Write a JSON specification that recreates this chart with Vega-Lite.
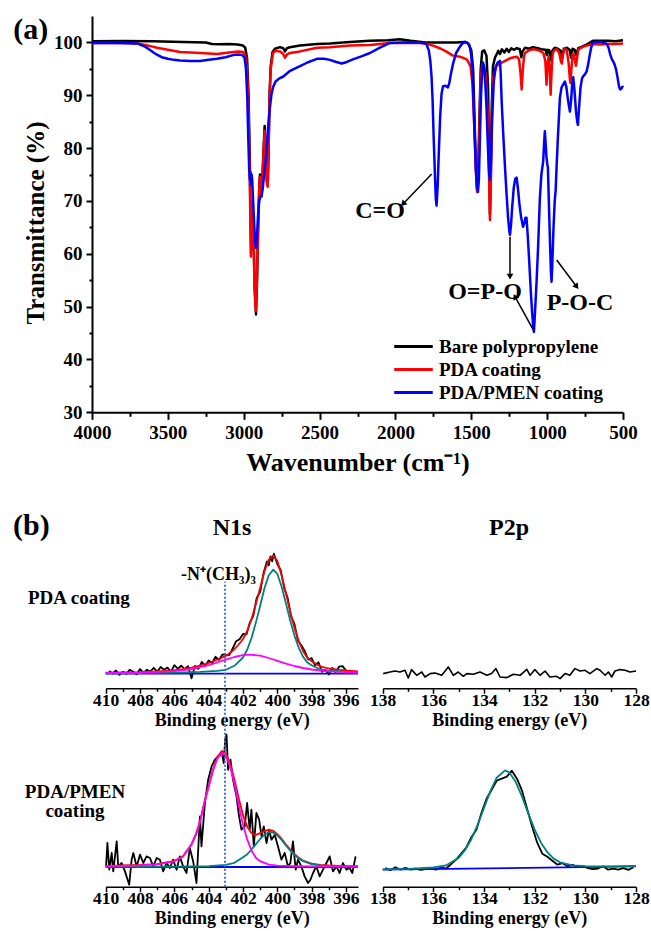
{
"$schema": "https://vega.github.io/schema/vega-lite/v6.json",
"width": 651, "height": 931,
"autosize": {"type": "none"},
"padding": 0,
"background": "white",
"config": {
 "view": {"stroke": null},
 "axis": {"labelFont": "Liberation Serif", "labelFontWeight": "bold", "labelColor": "#000", "titleFont": "Liberation Serif", "titleFontWeight": "bold", "titleColor": "#000", "domainColor": "#000", "tickColor": "#000", "grid": false, "labelOverlap": false, "labelFlush": false}
},
"datasets": {
"ftir": [
{"s":"Bare polypropylene","w":4000,"T":100.2},{"s":"Bare polypropylene","w":3800,"T":100.25},{"s":"Bare polypropylene","w":3600,"T":100.2},{"s":"Bare polypropylene","w":3400,"T":100.1},{"s":"Bare polypropylene","w":3250,"T":100.0},{"s":"Bare polypropylene","w":3210,"T":99.7},{"s":"Bare polypropylene","w":3150,"T":99.65},{"s":"Bare polypropylene","w":3100,"T":99.7},{"s":"Bare polypropylene","w":3040,"T":99.6},{"s":"Bare polypropylene","w":3005,"T":99.4},{"s":"Bare polypropylene","w":2990,"T":99.0},{"s":"Bare polypropylene","w":2978,"T":97},{"s":"Bare polypropylene","w":2968,"T":90},{"s":"Bare polypropylene","w":2960,"T":78},{"s":"Bare polypropylene","w":2955,"T":66},{"s":"Bare polypropylene","w":2951,"T":60.8},{"s":"Bare polypropylene","w":2947,"T":64},{"s":"Bare polypropylene","w":2942,"T":69.5},{"s":"Bare polypropylene","w":2936,"T":64},{"s":"Bare polypropylene","w":2928,"T":54},{"s":"Bare polypropylene","w":2919,"T":48.5},{"s":"Bare polypropylene","w":2912,"T":55},{"s":"Bare polypropylene","w":2905,"T":65},{"s":"Bare polypropylene","w":2897,"T":73},{"s":"Bare polypropylene","w":2893,"T":75},{"s":"Bare polypropylene","w":2886,"T":71.5},{"s":"Bare polypropylene","w":2880,"T":72},{"s":"Bare polypropylene","w":2872,"T":78},{"s":"Bare polypropylene","w":2862,"T":84.2},{"s":"Bare polypropylene","w":2855,"T":80},{"s":"Bare polypropylene","w":2848,"T":74},{"s":"Bare polypropylene","w":2842,"T":73},{"s":"Bare polypropylene","w":2836,"T":80},{"s":"Bare polypropylene","w":2830,"T":90},{"s":"Bare polypropylene","w":2822,"T":95.5},{"s":"Bare polypropylene","w":2810,"T":98.2},{"s":"Bare polypropylene","w":2794,"T":98.8},{"s":"Bare polypropylene","w":2761,"T":99.1},{"s":"Bare polypropylene","w":2740,"T":98.9},{"s":"Bare polypropylene","w":2728,"T":98.3},{"s":"Bare polypropylene","w":2715,"T":98.9},{"s":"Bare polypropylene","w":2695,"T":99.1},{"s":"Bare polypropylene","w":2629,"T":99.4},{"s":"Bare polypropylene","w":2517,"T":99.7},{"s":"Bare polypropylene","w":2432,"T":99.8},{"s":"Bare polypropylene","w":2300,"T":100.1},{"s":"Bare polypropylene","w":2170,"T":100.3},{"s":"Bare polypropylene","w":2050,"T":100.4},{"s":"Bare polypropylene","w":1970,"T":100.6},{"s":"Bare polypropylene","w":1900,"T":100.3},{"s":"Bare polypropylene","w":1800,"T":100.0},{"s":"Bare polypropylene","w":1700,"T":100.0},{"s":"Bare polypropylene","w":1600,"T":100.0},{"s":"Bare polypropylene","w":1542,"T":100.1},{"s":"Bare polypropylene","w":1520,"T":99.8},{"s":"Bare polypropylene","w":1500,"T":98.5},{"s":"Bare polypropylene","w":1488,"T":95},{"s":"Bare polypropylene","w":1478,"T":85},{"s":"Bare polypropylene","w":1468,"T":75},{"s":"Bare polypropylene","w":1462,"T":72},{"s":"Bare polypropylene","w":1455,"T":75},{"s":"Bare polypropylene","w":1447,"T":85},{"s":"Bare polypropylene","w":1438,"T":95},{"s":"Bare polypropylene","w":1428,"T":98.3},{"s":"Bare polypropylene","w":1415,"T":98.5},{"s":"Bare polypropylene","w":1400,"T":97.5},{"s":"Bare polypropylene","w":1390,"T":92},{"s":"Bare polypropylene","w":1382,"T":78},{"s":"Bare polypropylene","w":1377,"T":67.5},{"s":"Bare polypropylene","w":1372,"T":74},{"s":"Bare polypropylene","w":1365,"T":88},{"s":"Bare polypropylene","w":1357,"T":95.5},{"s":"Bare polypropylene","w":1344,"T":97.1},{"s":"Bare polypropylene","w":1332,"T":97.8},{"s":"Bare polypropylene","w":1322,"T":98.4},{"s":"Bare polypropylene","w":1311,"T":97.8},{"s":"Bare polypropylene","w":1298,"T":98.7},{"s":"Bare polypropylene","w":1282,"T":98.1},{"s":"Bare polypropylene","w":1266,"T":98.8},{"s":"Bare polypropylene","w":1252,"T":98.2},{"s":"Bare polypropylene","w":1236,"T":98.9},{"s":"Bare polypropylene","w":1220,"T":98.6},{"s":"Bare polypropylene","w":1200,"T":98.9},{"s":"Bare polypropylene","w":1180,"T":98.7},{"s":"Bare polypropylene","w":1170,"T":97.2},{"s":"Bare polypropylene","w":1162,"T":98.3},{"s":"Bare polypropylene","w":1145,"T":99.0},{"s":"Bare polypropylene","w":1120,"T":98.8},{"s":"Bare polypropylene","w":1094,"T":99.1},{"s":"Bare polypropylene","w":1060,"T":98.9},{"s":"Bare polypropylene","w":1040,"T":98.7},{"s":"Bare polypropylene","w":1010,"T":98.6},{"s":"Bare polypropylene","w":1002,"T":97.6},{"s":"Bare polypropylene","w":995,"T":98.6},{"s":"Bare polypropylene","w":985,"T":98.5},{"s":"Bare polypropylene","w":975,"T":96.6},{"s":"Bare polypropylene","w":966,"T":98.4},{"s":"Bare polypropylene","w":950,"T":99.0},{"s":"Bare polypropylene","w":930,"T":98.8},{"s":"Bare polypropylene","w":910,"T":98.4},{"s":"Bare polypropylene","w":900,"T":97.0},{"s":"Bare polypropylene","w":890,"T":98.8},{"s":"Bare polypropylene","w":870,"T":99.0},{"s":"Bare polypropylene","w":852,"T":98.6},{"s":"Bare polypropylene","w":842,"T":97.1},{"s":"Bare polypropylene","w":832,"T":98.8},{"s":"Bare polypropylene","w":818,"T":98.6},{"s":"Bare polypropylene","w":808,"T":97.6},{"s":"Bare polypropylene","w":795,"T":98.9},{"s":"Bare polypropylene","w":770,"T":99.2},{"s":"Bare polypropylene","w":740,"T":99.6},{"s":"Bare polypropylene","w":710,"T":100.1},{"s":"Bare polypropylene","w":698,"T":100.3},{"s":"Bare polypropylene","w":650,"T":100.3},{"s":"Bare polypropylene","w":600,"T":100.3},{"s":"Bare polypropylene","w":550,"T":100.2},{"s":"Bare polypropylene","w":500,"T":100.4},
{"s":"PDA coating","w":4000,"T":99.9},{"s":"PDA coating","w":3800,"T":99.9},{"s":"PDA coating","w":3700,"T":99.8},{"s":"PDA coating","w":3650,"T":99.5},{"s":"PDA coating","w":3600,"T":99.2},{"s":"PDA coating","w":3572,"T":99.0},{"s":"PDA coating","w":3500,"T":98.6},{"s":"PDA coating","w":3420,"T":98.2},{"s":"PDA coating","w":3350,"T":98.1},{"s":"PDA coating","w":3288,"T":98.0},{"s":"PDA coating","w":3230,"T":97.9},{"s":"PDA coating","w":3176,"T":97.8},{"s":"PDA coating","w":3120,"T":98.0},{"s":"PDA coating","w":3070,"T":98.2},{"s":"PDA coating","w":3030,"T":98.3},{"s":"PDA coating","w":3005,"T":98.2},{"s":"PDA coating","w":2990,"T":97.6},{"s":"PDA coating","w":2978,"T":95},{"s":"PDA coating","w":2968,"T":87},{"s":"PDA coating","w":2960,"T":74},{"s":"PDA coating","w":2953,"T":59.5},{"s":"PDA coating","w":2948,"T":63},{"s":"PDA coating","w":2943,"T":70},{"s":"PDA coating","w":2936,"T":64},{"s":"PDA coating","w":2928,"T":53},{"s":"PDA coating","w":2920,"T":49.2},{"s":"PDA coating","w":2913,"T":55},{"s":"PDA coating","w":2905,"T":65},{"s":"PDA coating","w":2897,"T":73},{"s":"PDA coating","w":2893,"T":74.6},{"s":"PDA coating","w":2886,"T":71},{"s":"PDA coating","w":2882,"T":70.8},{"s":"PDA coating","w":2874,"T":76},{"s":"PDA coating","w":2862,"T":83.3},{"s":"PDA coating","w":2855,"T":79},{"s":"PDA coating","w":2848,"T":73.5},{"s":"PDA coating","w":2842,"T":72.7},{"s":"PDA coating","w":2836,"T":79},{"s":"PDA coating","w":2830,"T":89},{"s":"PDA coating","w":2822,"T":95},{"s":"PDA coating","w":2807,"T":98.0},{"s":"PDA coating","w":2790,"T":98.4},{"s":"PDA coating","w":2760,"T":98.3},{"s":"PDA coating","w":2740,"T":97.8},{"s":"PDA coating","w":2728,"T":97.1},{"s":"PDA coating","w":2712,"T":97.8},{"s":"PDA coating","w":2695,"T":98.0},{"s":"PDA coating","w":2629,"T":98.3},{"s":"PDA coating","w":2517,"T":99.0},{"s":"PDA coating","w":2432,"T":99.1},{"s":"PDA coating","w":2300,"T":99.4},{"s":"PDA coating","w":2168,"T":99.5},{"s":"PDA coating","w":2036,"T":99.9},{"s":"PDA coating","w":1900,"T":99.9},{"s":"PDA coating","w":1838,"T":99.9},{"s":"PDA coating","w":1790,"T":99.7},{"s":"PDA coating","w":1752,"T":99.4},{"s":"PDA coating","w":1700,"T":98.8},{"s":"PDA coating","w":1661,"T":98.2},{"s":"PDA coating","w":1621,"T":97.5},{"s":"PDA coating","w":1575,"T":97.3},{"s":"PDA coating","w":1530,"T":96.8},{"s":"PDA coating","w":1505,"T":95.5},{"s":"PDA coating","w":1492,"T":92},{"s":"PDA coating","w":1480,"T":84},{"s":"PDA coating","w":1470,"T":76},{"s":"PDA coating","w":1461,"T":71.7},{"s":"PDA coating","w":1454,"T":74},{"s":"PDA coating","w":1446,"T":84},{"s":"PDA coating","w":1438,"T":93},{"s":"PDA coating","w":1428,"T":95.8},{"s":"PDA coating","w":1415,"T":95.5},{"s":"PDA coating","w":1402,"T":93},{"s":"PDA coating","w":1392,"T":86},{"s":"PDA coating","w":1384,"T":76},{"s":"PDA coating","w":1377,"T":66.4},{"s":"PDA coating","w":1371,"T":73},{"s":"PDA coating","w":1364,"T":86},{"s":"PDA coating","w":1355,"T":93.5},{"s":"PDA coating","w":1333,"T":95.6},{"s":"PDA coating","w":1310,"T":96},{"s":"PDA coating","w":1290,"T":96.3},{"s":"PDA coating","w":1265,"T":96.7},{"s":"PDA coating","w":1245,"T":97.0},{"s":"PDA coating","w":1220,"T":97.2},{"s":"PDA coating","w":1200,"T":97.3},{"s":"PDA coating","w":1185,"T":96.8},{"s":"PDA coating","w":1175,"T":94},{"s":"PDA coating","w":1168,"T":91.1},{"s":"PDA coating","w":1161,"T":94.5},{"s":"PDA coating","w":1153,"T":97.2},{"s":"PDA coating","w":1146,"T":98.0},{"s":"PDA coating","w":1120,"T":98.5},{"s":"PDA coating","w":1094,"T":98.7},{"s":"PDA coating","w":1070,"T":98.6},{"s":"PDA coating","w":1048,"T":98.4},{"s":"PDA coating","w":1025,"T":98},{"s":"PDA coating","w":1012,"T":96.5},{"s":"PDA coating","w":1004,"T":92},{"s":"PDA coating","w":998,"T":95.5},{"s":"PDA coating","w":990,"T":97.4},{"s":"PDA coating","w":983,"T":95},{"s":"PDA coating","w":977,"T":90.1},{"s":"PDA coating","w":970,"T":95},{"s":"PDA coating","w":963,"T":98.0},{"s":"PDA coating","w":950,"T":98.6},{"s":"PDA coating","w":935,"T":98.7},{"s":"PDA coating","w":920,"T":98},{"s":"PDA coating","w":910,"T":96.5},{"s":"PDA coating","w":903,"T":96},{"s":"PDA coating","w":896,"T":97.8},{"s":"PDA coating","w":883,"T":98.9},{"s":"PDA coating","w":870,"T":98.4},{"s":"PDA coating","w":858,"T":96},{"s":"PDA coating","w":850,"T":93},{"s":"PDA coating","w":846,"T":92.3},{"s":"PDA coating","w":840,"T":95},{"s":"PDA coating","w":832,"T":97.8},{"s":"PDA coating","w":825,"T":97.8},{"s":"PDA coating","w":816,"T":96.5},{"s":"PDA coating","w":810,"T":95.6},{"s":"PDA coating","w":803,"T":97},{"s":"PDA coating","w":795,"T":98.5},{"s":"PDA coating","w":784,"T":98.9},{"s":"PDA coating","w":760,"T":99.2},{"s":"PDA coating","w":738,"T":99.4},{"s":"PDA coating","w":698,"T":99.7},{"s":"PDA coating","w":650,"T":99.6},{"s":"PDA coating","w":600,"T":99.7},{"s":"PDA coating","w":550,"T":99.7},{"s":"PDA coating","w":500,"T":99.8},
{"s":"PDA/PMEN coating","w":4000,"T":99.9},{"s":"PDA/PMEN coating","w":3850,"T":99.9},{"s":"PDA/PMEN coating","w":3750,"T":99.85},{"s":"PDA/PMEN coating","w":3700,"T":99.8},{"s":"PDA/PMEN coating","w":3684,"T":99.6},{"s":"PDA/PMEN coating","w":3650,"T":99.2},{"s":"PDA/PMEN coating","w":3620,"T":98.6},{"s":"PDA/PMEN coating","w":3590,"T":98.0},{"s":"PDA/PMEN coating","w":3572,"T":97.7},{"s":"PDA/PMEN coating","w":3540,"T":97.2},{"s":"PDA/PMEN coating","w":3500,"T":96.9},{"s":"PDA/PMEN coating","w":3460,"T":96.7},{"s":"PDA/PMEN coating","w":3420,"T":96.6},{"s":"PDA/PMEN coating","w":3350,"T":96.5},{"s":"PDA/PMEN coating","w":3288,"T":96.5},{"s":"PDA/PMEN coating","w":3230,"T":96.7},{"s":"PDA/PMEN coating","w":3176,"T":96.9},{"s":"PDA/PMEN coating","w":3120,"T":97.2},{"s":"PDA/PMEN coating","w":3070,"T":97.6},{"s":"PDA/PMEN coating","w":3040,"T":97.7},{"s":"PDA/PMEN coating","w":3010,"T":97.6},{"s":"PDA/PMEN coating","w":2995,"T":97.2},{"s":"PDA/PMEN coating","w":2985,"T":95},{"s":"PDA/PMEN coating","w":2977,"T":90},{"s":"PDA/PMEN coating","w":2970,"T":82},{"s":"PDA/PMEN coating","w":2964,"T":76},{"s":"PDA/PMEN coating","w":2959,"T":74},{"s":"PDA/PMEN coating","w":2955,"T":75.5},{"s":"PDA/PMEN coating","w":2952,"T":73},{"s":"PDA/PMEN coating","w":2948,"T":75},{"s":"PDA/PMEN coating","w":2944,"T":74},{"s":"PDA/PMEN coating","w":2938,"T":70},{"s":"PDA/PMEN coating","w":2930,"T":65},{"s":"PDA/PMEN coating","w":2924,"T":62},{"s":"PDA/PMEN coating","w":2919,"T":61.1},{"s":"PDA/PMEN coating","w":2913,"T":63},{"s":"PDA/PMEN coating","w":2906,"T":67},{"s":"PDA/PMEN coating","w":2898,"T":70},{"s":"PDA/PMEN coating","w":2890,"T":70.8},{"s":"PDA/PMEN coating","w":2882,"T":71},{"s":"PDA/PMEN coating","w":2874,"T":72.5},{"s":"PDA/PMEN coating","w":2866,"T":75},{"s":"PDA/PMEN coating","w":2858,"T":77},{"s":"PDA/PMEN coating","w":2848,"T":80},{"s":"PDA/PMEN coating","w":2840,"T":83.5},{"s":"PDA/PMEN coating","w":2830,"T":87},{"s":"PDA/PMEN coating","w":2818,"T":90},{"s":"PDA/PMEN coating","w":2807,"T":91.5},{"s":"PDA/PMEN coating","w":2790,"T":92.6},{"s":"PDA/PMEN coating","w":2765,"T":93.2},{"s":"PDA/PMEN coating","w":2741,"T":93.5},{"s":"PDA/PMEN coating","w":2700,"T":94.5},{"s":"PDA/PMEN coating","w":2660,"T":95.1},{"s":"PDA/PMEN coating","w":2629,"T":95.5},{"s":"PDA/PMEN coating","w":2580,"T":96.2},{"s":"PDA/PMEN coating","w":2517,"T":96.9},{"s":"PDA/PMEN coating","w":2470,"T":96.9},{"s":"PDA/PMEN coating","w":2432,"T":96.7},{"s":"PDA/PMEN coating","w":2390,"T":96.3},{"s":"PDA/PMEN coating","w":2354,"T":96.0},{"s":"PDA/PMEN coating","w":2320,"T":96.3},{"s":"PDA/PMEN coating","w":2280,"T":96.8},{"s":"PDA/PMEN coating","w":2220,"T":97.4},{"s":"PDA/PMEN coating","w":2168,"T":98.0},{"s":"PDA/PMEN coating","w":2102,"T":99.0},{"s":"PDA/PMEN coating","w":2036,"T":99.9},{"s":"PDA/PMEN coating","w":1950,"T":100.0},{"s":"PDA/PMEN coating","w":1838,"T":100.0},{"s":"PDA/PMEN coating","w":1810,"T":99.9},{"s":"PDA/PMEN coating","w":1795,"T":99.6},{"s":"PDA/PMEN coating","w":1780,"T":98.5},{"s":"PDA/PMEN coating","w":1770,"T":96.5},{"s":"PDA/PMEN coating","w":1762,"T":93.6},{"s":"PDA/PMEN coating","w":1755,"T":89},{"s":"PDA/PMEN coating","w":1748,"T":82},{"s":"PDA/PMEN coating","w":1740,"T":75.3},{"s":"PDA/PMEN coating","w":1734,"T":70.5},{"s":"PDA/PMEN coating","w":1729,"T":69.1},{"s":"PDA/PMEN coating","w":1722,"T":72.5},{"s":"PDA/PMEN coating","w":1713,"T":80},{"s":"PDA/PMEN coating","w":1705,"T":86},{"s":"PDA/PMEN coating","w":1696,"T":90.3},{"s":"PDA/PMEN coating","w":1686,"T":91.7},{"s":"PDA/PMEN coating","w":1670,"T":91.8},{"s":"PDA/PMEN coating","w":1654,"T":91.5},{"s":"PDA/PMEN coating","w":1645,"T":92.3},{"s":"PDA/PMEN coating","w":1636,"T":93.8},{"s":"PDA/PMEN coating","w":1620,"T":96.0},{"s":"PDA/PMEN coating","w":1600,"T":98},{"s":"PDA/PMEN coating","w":1575,"T":99.2},{"s":"PDA/PMEN coating","w":1555,"T":99.9},{"s":"PDA/PMEN coating","w":1542,"T":100.1},{"s":"PDA/PMEN coating","w":1525,"T":99.9},{"s":"PDA/PMEN coating","w":1511,"T":99.4},{"s":"PDA/PMEN coating","w":1500,"T":97.5},{"s":"PDA/PMEN coating","w":1489,"T":92.1},{"s":"PDA/PMEN coating","w":1480,"T":84},{"s":"PDA/PMEN coating","w":1470,"T":76.5},{"s":"PDA/PMEN coating","w":1463,"T":73},{"s":"PDA/PMEN coating","w":1456,"T":71.7},{"s":"PDA/PMEN coating","w":1450,"T":74},{"s":"PDA/PMEN coating","w":1443,"T":82},{"s":"PDA/PMEN coating","w":1436,"T":90},{"s":"PDA/PMEN coating","w":1428,"T":94.8},{"s":"PDA/PMEN coating","w":1423,"T":96.2},{"s":"PDA/PMEN coating","w":1416,"T":95.5},{"s":"PDA/PMEN coating","w":1408,"T":92.5},{"s":"PDA/PMEN coating","w":1400,"T":88},{"s":"PDA/PMEN coating","w":1390,"T":80},{"s":"PDA/PMEN coating","w":1383,"T":75.5},{"s":"PDA/PMEN coating","w":1377,"T":74.0},{"s":"PDA/PMEN coating","w":1370,"T":78},{"s":"PDA/PMEN coating","w":1362,"T":86},{"s":"PDA/PMEN coating","w":1352,"T":92.5},{"s":"PDA/PMEN coating","w":1340,"T":95.3},{"s":"PDA/PMEN coating","w":1326,"T":96.2},{"s":"PDA/PMEN coating","w":1311,"T":96.5},{"s":"PDA/PMEN coating","w":1306,"T":94},{"s":"PDA/PMEN coating","w":1300,"T":89},{"s":"PDA/PMEN coating","w":1290,"T":83},{"s":"PDA/PMEN coating","w":1278,"T":76.5},{"s":"PDA/PMEN coating","w":1268,"T":71.5},{"s":"PDA/PMEN coating","w":1258,"T":67},{"s":"PDA/PMEN coating","w":1250,"T":64.5},{"s":"PDA/PMEN coating","w":1245,"T":63.6},{"s":"PDA/PMEN coating","w":1238,"T":65.5},{"s":"PDA/PMEN coating","w":1230,"T":69},{"s":"PDA/PMEN coating","w":1220,"T":72.5},{"s":"PDA/PMEN coating","w":1210,"T":74.2},{"s":"PDA/PMEN coating","w":1201,"T":74.4},{"s":"PDA/PMEN coating","w":1193,"T":72.5},{"s":"PDA/PMEN coating","w":1183,"T":69.5},{"s":"PDA/PMEN coating","w":1172,"T":67},{"s":"PDA/PMEN coating","w":1159,"T":65.1},{"s":"PDA/PMEN coating","w":1150,"T":65.8},{"s":"PDA/PMEN coating","w":1143,"T":66.8},{"s":"PDA/PMEN coating","w":1136,"T":66.8},{"s":"PDA/PMEN coating","w":1128,"T":63.5},{"s":"PDA/PMEN coating","w":1118,"T":58.5},{"s":"PDA/PMEN coating","w":1108,"T":53},{"s":"PDA/PMEN coating","w":1098,"T":48.5},{"s":"PDA/PMEN coating","w":1092,"T":46.3},{"s":"PDA/PMEN coating","w":1087,"T":45.2},{"s":"PDA/PMEN coating","w":1080,"T":49},{"s":"PDA/PMEN coating","w":1070,"T":54.5},{"s":"PDA/PMEN coating","w":1060,"T":61},{"s":"PDA/PMEN coating","w":1048,"T":70.5},{"s":"PDA/PMEN coating","w":1038,"T":75},{"s":"PDA/PMEN coating","w":1026,"T":77.5},{"s":"PDA/PMEN coating","w":1020,"T":81},{"s":"PDA/PMEN coating","w":1015,"T":83.2},{"s":"PDA/PMEN coating","w":1010,"T":81},{"s":"PDA/PMEN coating","w":1005,"T":78.5},{"s":"PDA/PMEN coating","w":999,"T":77},{"s":"PDA/PMEN coating","w":995,"T":76.3},{"s":"PDA/PMEN coating","w":988,"T":69},{"s":"PDA/PMEN coating","w":980,"T":61},{"s":"PDA/PMEN coating","w":975,"T":56.5},{"s":"PDA/PMEN coating","w":971,"T":54.7},{"s":"PDA/PMEN coating","w":966,"T":58},{"s":"PDA/PMEN coating","w":958,"T":65},{"s":"PDA/PMEN coating","w":950,"T":70},{"s":"PDA/PMEN coating","w":944,"T":72},{"s":"PDA/PMEN coating","w":937,"T":77},{"s":"PDA/PMEN coating","w":930,"T":81.5},{"s":"PDA/PMEN coating","w":922,"T":86},{"s":"PDA/PMEN coating","w":916,"T":89.5},{"s":"PDA/PMEN coating","w":905,"T":91.5},{"s":"PDA/PMEN coating","w":895,"T":92},{"s":"PDA/PMEN coating","w":883,"T":92.6},{"s":"PDA/PMEN coating","w":873,"T":91.5},{"s":"PDA/PMEN coating","w":862,"T":89},{"s":"PDA/PMEN coating","w":850,"T":86.9},{"s":"PDA/PMEN coating","w":842,"T":89},{"s":"PDA/PMEN coating","w":834,"T":92.5},{"s":"PDA/PMEN coating","w":828,"T":93.4},{"s":"PDA/PMEN coating","w":820,"T":91},{"s":"PDA/PMEN coating","w":810,"T":87},{"s":"PDA/PMEN coating","w":802,"T":85},{"s":"PDA/PMEN coating","w":797,"T":84.4},{"s":"PDA/PMEN coating","w":790,"T":87.5},{"s":"PDA/PMEN coating","w":780,"T":91.5},{"s":"PDA/PMEN coating","w":770,"T":93.2},{"s":"PDA/PMEN coating","w":762,"T":93.6},{"s":"PDA/PMEN coating","w":750,"T":94},{"s":"PDA/PMEN coating","w":740,"T":94.5},{"s":"PDA/PMEN coating","w":730,"T":95.8},{"s":"PDA/PMEN coating","w":720,"T":97.5},{"s":"PDA/PMEN coating","w":710,"T":99},{"s":"PDA/PMEN coating","w":698,"T":100.0},{"s":"PDA/PMEN coating","w":680,"T":100.1},{"s":"PDA/PMEN coating","w":650,"T":100.1},{"s":"PDA/PMEN coating","w":620,"T":99.9},{"s":"PDA/PMEN coating","w":606,"T":99.7},{"s":"PDA/PMEN coating","w":595,"T":99.0},{"s":"PDA/PMEN coating","w":585,"T":97.8},{"s":"PDA/PMEN coating","w":573,"T":96.8},{"s":"PDA/PMEN coating","w":563,"T":96.3},{"s":"PDA/PMEN coating","w":555,"T":95.8},{"s":"PDA/PMEN coating","w":545,"T":94.8},{"s":"PDA/PMEN coating","w":535,"T":93.2},{"s":"PDA/PMEN coating","w":525,"T":91.5},{"s":"PDA/PMEN coating","w":518,"T":91.1},{"s":"PDA/PMEN coating","w":510,"T":91.3},{"s":"PDA/PMEN coating","w":500,"T":91.8}
],
"arrows": [
{"k":"CO","w":1950.1,"T":69.42,"w2":1760.9,"T2":75.1},
{"k":"OPO1","w":1244.8,"T":55.66,"w2":1244.8,"T2":63.23},
{"k":"OPO2","w":1211.9,"T":51.88,"w2":1091.2,"T2":45.58},
{"k":"POC","w":805.2,"T":53.77,"w2":937,"T2":58.82}
],
"ftirlabels": [
{"w":2101.7,"T":66.71,"label":"C=O"},
{"w":1409.6,"T":51.35,"label":"O=P-O"},
{"w":783.4,"T":49.3,"label":"P-O-C"}
],
"n1sA": [
{"c":"raw","E":409.8,"v":17.2},{"c":"raw","E":409.6,"v":14.8},{"c":"raw","E":409.4,"v":17.8},{"c":"raw","E":409.2,"v":13.4},{"c":"raw","E":409.0,"v":16.4},{"c":"raw","E":408.8,"v":14.5},{"c":"raw","E":408.6,"v":18.5},{"c":"raw","E":408.4,"v":16.6},{"c":"raw","E":408.2,"v":14.1},{"c":"raw","E":408.0,"v":19.2},{"c":"raw","E":407.8,"v":15.4},{"c":"raw","E":407.6,"v":18.6},{"c":"raw","E":407.4,"v":16.8},{"c":"raw","E":407.2,"v":20.5},{"c":"raw","E":407.0,"v":16.6},{"c":"raw","E":406.8,"v":21.3},{"c":"raw","E":406.6,"v":18.5},{"c":"raw","E":406.4,"v":20.7},{"c":"raw","E":406.2,"v":16.4},{"c":"raw","E":406.0,"v":23.1},{"c":"raw","E":405.8,"v":19.6},{"c":"raw","E":405.6,"v":22.6},{"c":"raw","E":405.4,"v":19.1},{"c":"raw","E":405.2,"v":22.1},{"c":"raw","E":405.0,"v":10.0},{"c":"raw","E":404.8,"v":22.5},{"c":"raw","E":404.6,"v":19.4},{"c":"raw","E":404.4,"v":26.4},{"c":"raw","E":404.2,"v":22.3},{"c":"raw","E":404.0,"v":27.8},{"c":"raw","E":403.8,"v":25.1},{"c":"raw","E":403.6,"v":31.5},{"c":"raw","E":403.4,"v":28.4},{"c":"raw","E":403.2,"v":33.9},{"c":"raw","E":403.0,"v":33.4},{"c":"raw","E":402.8,"v":33.1},{"c":"raw","E":402.6,"v":39.8},{"c":"raw","E":402.4,"v":47.1},{"c":"raw","E":402.2,"v":49.1},{"c":"raw","E":402.0,"v":54.3},{"c":"raw","E":401.8,"v":53.9},{"c":"raw","E":401.6,"v":65.7},{"c":"raw","E":401.4,"v":72.4},{"c":"raw","E":401.2,"v":90.6},{"c":"raw","E":401.0,"v":96.5},{"c":"raw","E":400.8,"v":115.6},{"c":"raw","E":400.6,"v":127},{"c":"raw","E":400.5,"v":123},{"c":"raw","E":400.4,"v":132},{"c":"raw","E":400.3,"v":127},{"c":"raw","E":400.2,"v":134.6},{"c":"raw","E":400.0,"v":124.3},{"c":"raw","E":399.8,"v":118},{"c":"raw","E":399.6,"v":100},{"c":"raw","E":399.4,"v":90.4},{"c":"raw","E":399.2,"v":72},{"c":"raw","E":399.0,"v":64.2},{"c":"raw","E":398.8,"v":47.6},{"c":"raw","E":398.6,"v":43},{"c":"raw","E":398.4,"v":37},{"c":"raw","E":398.2,"v":28.8},{"c":"raw","E":398.0,"v":30.1},{"c":"raw","E":397.8,"v":23},{"c":"raw","E":397.6,"v":26},{"c":"raw","E":397.4,"v":16.5},{"c":"raw","E":397.2,"v":18.6},{"c":"raw","E":397.0,"v":13.8},{"c":"raw","E":396.8,"v":20.4},{"c":"raw","E":396.6,"v":16},{"c":"raw","E":396.4,"v":21.6},{"c":"raw","E":396.2,"v":22.2},{"c":"raw","E":396.0,"v":17.8},{"c":"raw","E":395.8,"v":14.7},
{"c":"base","E":410,"v":14.7},{"c":"base","E":395.3,"v":14.7},
{"c":"fit","E":410,"v":15.6},{"c":"fit","E":409,"v":15.9},{"c":"fit","E":408,"v":16.2},{"c":"fit","E":407,"v":17.0},{"c":"fit","E":406,"v":18.1},{"c":"fit","E":405.5,"v":19.2},{"c":"fit","E":405,"v":20.6},{"c":"fit","E":404.5,"v":22.8},{"c":"fit","E":404,"v":25.3},{"c":"fit","E":403.5,"v":28.6},{"c":"fit","E":403,"v":32.4},{"c":"fit","E":402.75,"v":35.5},{"c":"fit","E":402.5,"v":39.1},{"c":"fit","E":402.25,"v":43.8},{"c":"fit","E":402,"v":49.3},{"c":"fit","E":401.75,"v":57.6},{"c":"fit","E":401.5,"v":69.5},{"c":"fit","E":401.25,"v":84.3},{"c":"fit","E":401,"v":100.5},{"c":"fit","E":400.75,"v":116.9},{"c":"fit","E":400.5,"v":128.6},{"c":"fit","E":400.23,"v":132.9},{"c":"fit","E":400,"v":127.3},{"c":"fit","E":399.75,"v":112.9},{"c":"fit","E":399.5,"v":95.1},{"c":"fit","E":399.25,"v":76.5},{"c":"fit","E":399,"v":60.2},{"c":"fit","E":398.75,"v":47},{"c":"fit","E":398.5,"v":37.1},{"c":"fit","E":398.25,"v":30.5},{"c":"fit","E":398,"v":27.1},{"c":"fit","E":397.5,"v":21.9},{"c":"fit","E":397,"v":19.8},{"c":"fit","E":396.5,"v":18.6},{"c":"fit","E":396,"v":17.8},{"c":"fit","E":395.3,"v":17.0},
{"c":"comp1","E":410,"v":15.0},{"c":"comp1","E":408,"v":15.2},{"c":"comp1","E":406,"v":15.6},{"c":"comp1","E":404.5,"v":16.4},{"c":"comp1","E":403.5,"v":17.5},{"c":"comp1","E":403,"v":18.5},{"c":"comp1","E":402.5,"v":22.5},{"c":"comp1","E":402,"v":30.8},{"c":"comp1","E":401.75,"v":38.8},{"c":"comp1","E":401.5,"v":50.6},{"c":"comp1","E":401.25,"v":65.7},{"c":"comp1","E":401,"v":82.6},{"c":"comp1","E":400.75,"v":100},{"c":"comp1","E":400.5,"v":113},{"c":"comp1","E":400.23,"v":118.7},{"c":"comp1","E":400,"v":114.5},{"c":"comp1","E":399.75,"v":101.5},{"c":"comp1","E":399.5,"v":85.1},{"c":"comp1","E":399.25,"v":67.7},{"c":"comp1","E":399,"v":52.6},{"c":"comp1","E":398.75,"v":40.4},{"c":"comp1","E":398.5,"v":31.5},{"c":"comp1","E":398.25,"v":25.7},{"c":"comp1","E":398,"v":23},{"c":"comp1","E":397.5,"v":18.8},{"c":"comp1","E":397,"v":17.6},{"c":"comp1","E":396,"v":16.4},{"c":"comp1","E":395.3,"v":15.9},
{"c":"comp2","E":410,"v":15.3},{"c":"comp2","E":408,"v":15.7},{"c":"comp2","E":406,"v":17.2},{"c":"comp2","E":405,"v":19.3},{"c":"comp2","E":404,"v":23.2},{"c":"comp2","E":403.5,"v":25.8},{"c":"comp2","E":403,"v":28.6},{"c":"comp2","E":402.5,"v":31.3},{"c":"comp2","E":402,"v":33.2},{"c":"comp2","E":401.6,"v":33.7},{"c":"comp2","E":401,"v":32.6},{"c":"comp2","E":400.5,"v":30.3},{"c":"comp2","E":400,"v":27.5},{"c":"comp2","E":399.5,"v":24.7},{"c":"comp2","E":399,"v":22.3},{"c":"comp2","E":398.5,"v":20.3},{"c":"comp2","E":398,"v":18.8},{"c":"comp2","E":397,"v":16.9},{"c":"comp2","E":396,"v":16.1},{"c":"comp2","E":395.3,"v":15.8}
],
"p2pA": [
{"E":137.98,"v":14.7},{"E":137.71,"v":16.3},{"E":137.51,"v":17.3},{"E":137.32,"v":16.3},{"E":137.12,"v":18.0},{"E":136.99,"v":10.3},{"E":136.86,"v":18.7},{"E":136.66,"v":13.0},{"E":136.46,"v":16.3},{"E":136.33,"v":11.3},{"E":136.13,"v":14.7},{"E":135.93,"v":15.3},{"E":135.67,"v":13.0},{"E":135.41,"v":21.3},{"E":135.21,"v":13.0},{"E":135.02,"v":16.3},{"E":134.82,"v":12.0},{"E":134.68,"v":14.7},{"E":134.42,"v":14.0},{"E":134.16,"v":16.3},{"E":133.89,"v":13.0},{"E":133.70,"v":14.7},{"E":133.53,"v":19.7},{"E":133.37,"v":11.3},{"E":133.10,"v":10.7},{"E":132.84,"v":14.0},{"E":132.58,"v":13.0},{"E":132.31,"v":19.0},{"E":132.18,"v":13.0},{"E":131.99,"v":18.7},{"E":131.79,"v":13.0},{"E":131.59,"v":17.3},{"E":131.40,"v":11.3},{"E":131.13,"v":12.0},{"E":131.00,"v":9.7},{"E":130.80,"v":14.7},{"E":130.61,"v":13.0},{"E":130.41,"v":19.7},{"E":130.21,"v":17.3},{"E":130.01,"v":18.0},{"E":129.82,"v":14.7},{"E":129.55,"v":19.7},{"E":129.42,"v":18.0},{"E":129.22,"v":13.0},{"E":129.09,"v":16.3},{"E":128.96,"v":11.3},{"E":128.83,"v":17.3},{"E":128.63,"v":18.7},{"E":128.43,"v":18.0},{"E":128.24,"v":16.3},{"E":128.00,"v":17.3}
],
"n1sB": [
{"c":"raw","E":409.98,"v":20.3},{"c":"raw","E":409.90,"v":43.7},{"c":"raw","E":409.79,"v":17},{"c":"raw","E":409.65,"v":33.7},{"c":"raw","E":409.56,"v":15.3},{"c":"raw","E":409.36,"v":45.3},{"c":"raw","E":409.27,"v":20.3},{"c":"raw","E":409.07,"v":23.7},{"c":"raw","E":408.88,"v":15.3},{"c":"raw","E":408.63,"v":2},{"c":"raw","E":408.49,"v":27},{"c":"raw","E":408.39,"v":33.7},{"c":"raw","E":408.20,"v":20.3},{"c":"raw","E":408.00,"v":32},{"c":"raw","E":407.81,"v":23.7},{"c":"raw","E":407.62,"v":30.3},{"c":"raw","E":407.42,"v":28.7},{"c":"raw","E":407.23,"v":20.3},{"c":"raw","E":407.03,"v":28.7},{"c":"raw","E":406.84,"v":27},{"c":"raw","E":406.65,"v":15.3},{"c":"raw","E":406.45,"v":23.7},{"c":"raw","E":406.26,"v":18.7},{"c":"raw","E":406.07,"v":27},{"c":"raw","E":405.87,"v":17},{"c":"raw","E":405.68,"v":30.3},{"c":"raw","E":405.49,"v":20.3},{"c":"raw","E":405.29,"v":13.7},{"c":"raw","E":405.10,"v":38.7},{"c":"raw","E":404.90,"v":25},{"c":"raw","E":404.71,"v":3.7},{"c":"raw","E":404.51,"v":70.3},{"c":"raw","E":404.42,"v":40.3},{"c":"raw","E":404.22,"v":83.7},{"c":"raw","E":404.03,"v":107},{"c":"raw","E":403.83,"v":120.3},{"c":"raw","E":403.64,"v":127},{"c":"raw","E":403.45,"v":130.3},{"c":"raw","E":403.25,"v":135.3},{"c":"raw","E":403.12,"v":123.7},{"c":"raw","E":403.04,"v":147},{"c":"raw","E":402.96,"v":152},{"c":"raw","E":402.87,"v":117},{"c":"raw","E":402.73,"v":127},{"c":"raw","E":402.58,"v":107},{"c":"raw","E":402.38,"v":90.3},{"c":"raw","E":402.23,"v":70.3},{"c":"raw","E":402.09,"v":57},{"c":"raw","E":401.90,"v":60.3},{"c":"raw","E":401.76,"v":83.7},{"c":"raw","E":401.61,"v":57},{"c":"raw","E":401.51,"v":77},{"c":"raw","E":401.37,"v":40.3},{"c":"raw","E":401.22,"v":73.7},{"c":"raw","E":401.06,"v":67},{"c":"raw","E":400.92,"v":50.3},{"c":"raw","E":400.79,"v":60.3},{"c":"raw","E":400.63,"v":43.7},{"c":"raw","E":400.48,"v":57},{"c":"raw","E":400.34,"v":47},{"c":"raw","E":400.15,"v":52},{"c":"raw","E":399.96,"v":40.3},{"c":"raw","E":399.76,"v":27},{"c":"raw","E":399.57,"v":33.7},{"c":"raw","E":399.38,"v":20.3},{"c":"raw","E":399.24,"v":23.7},{"c":"raw","E":399.09,"v":45.3},{"c":"raw","E":398.93,"v":17},{"c":"raw","E":398.80,"v":27},{"c":"raw","E":398.60,"v":20.3},{"c":"raw","E":398.41,"v":10.3},{"c":"raw","E":398.21,"v":3.7},{"c":"raw","E":398.07,"v":7},{"c":"raw","E":397.92,"v":13.7},{"c":"raw","E":397.73,"v":20.3},{"c":"raw","E":397.53,"v":10.3},{"c":"raw","E":397.34,"v":17},{"c":"raw","E":397.14,"v":23.7},{"c":"raw","E":396.95,"v":30.3},{"c":"raw","E":396.76,"v":15.3},{"c":"raw","E":396.56,"v":20.3},{"c":"raw","E":396.37,"v":13.7},{"c":"raw","E":396.18,"v":23.7},{"c":"raw","E":395.98,"v":17},{"c":"raw","E":395.79,"v":18.7},{"c":"raw","E":395.63,"v":13.7},{"c":"raw","E":395.44,"v":30.3},
{"c":"base","E":410,"v":19.7},{"c":"base","E":395.3,"v":19.7},
{"c":"fit","E":410,"v":20.7},{"c":"fit","E":408,"v":21.7},{"c":"fit","E":407,"v":22.6},{"c":"fit","E":406,"v":25.8},{"c":"fit","E":405.5,"v":30.5},{"c":"fit","E":405,"v":42.5},{"c":"fit","E":404.75,"v":52.3},{"c":"fit","E":404.5,"v":65.5},{"c":"fit","E":404.25,"v":84.8},{"c":"fit","E":404,"v":100.9},{"c":"fit","E":403.75,"v":117.2},{"c":"fit","E":403.5,"v":129.5},{"c":"fit","E":403.2,"v":135.6},{"c":"fit","E":403,"v":133},{"c":"fit","E":402.75,"v":123},{"c":"fit","E":402.5,"v":107.2},{"c":"fit","E":402.25,"v":88.5},{"c":"fit","E":402,"v":71.8},{"c":"fit","E":401.75,"v":59.8},{"c":"fit","E":401.5,"v":53.5},{"c":"fit","E":401.25,"v":51.9},{"c":"fit","E":401,"v":53.5},{"c":"fit","E":400.75,"v":55.9},{"c":"fit","E":400.5,"v":56.7},{"c":"fit","E":400.25,"v":56},{"c":"fit","E":400,"v":52.5},{"c":"fit","E":399.75,"v":47.8},{"c":"fit","E":399.5,"v":42.2},{"c":"fit","E":399.25,"v":37.1},{"c":"fit","E":399,"v":32.7},{"c":"fit","E":398.75,"v":28.9},{"c":"fit","E":398.5,"v":26.2},{"c":"fit","E":398,"v":23.1},{"c":"fit","E":397.5,"v":21.8},{"c":"fit","E":397,"v":21.2},{"c":"fit","E":396,"v":20.6},{"c":"fit","E":395.3,"v":20.5},
{"c":"comp1","E":410,"v":19.9},{"c":"comp1","E":406,"v":20.1},{"c":"comp1","E":404,"v":20.6},{"c":"comp1","E":403,"v":21.8},{"c":"comp1","E":402.5,"v":23.9},{"c":"comp1","E":402,"v":29.5},{"c":"comp1","E":401.75,"v":32.5},{"c":"comp1","E":401.5,"v":37.2},{"c":"comp1","E":401.25,"v":42.6},{"c":"comp1","E":401,"v":47.7},{"c":"comp1","E":400.75,"v":52.1},{"c":"comp1","E":400.5,"v":54.4},{"c":"comp1","E":400.4,"v":54.7},{"c":"comp1","E":400.25,"v":54.2},{"c":"comp1","E":400,"v":51.2},{"c":"comp1","E":399.75,"v":46.7},{"c":"comp1","E":399.5,"v":41.2},{"c":"comp1","E":399.25,"v":36.2},{"c":"comp1","E":399,"v":31.8},{"c":"comp1","E":398.75,"v":28.1},{"c":"comp1","E":398.5,"v":25.5},{"c":"comp1","E":398,"v":22.5},{"c":"comp1","E":397.5,"v":21.3},{"c":"comp1","E":397,"v":20.8},{"c":"comp1","E":396,"v":20.3},{"c":"comp1","E":395.3,"v":20.2},
{"c":"comp2","E":410,"v":20.5},{"c":"comp2","E":408,"v":21.4},{"c":"comp2","E":407,"v":22.3},{"c":"comp2","E":406,"v":25.4},{"c":"comp2","E":405.5,"v":30},{"c":"comp2","E":405,"v":41.9},{"c":"comp2","E":404.75,"v":51.6},{"c":"comp2","E":404.5,"v":64.7},{"c":"comp2","E":404.25,"v":84},{"c":"comp2","E":404,"v":100},{"c":"comp2","E":403.75,"v":116},{"c":"comp2","E":403.5,"v":128},{"c":"comp2","E":403.2,"v":133.7},{"c":"comp2","E":403,"v":130.9},{"c":"comp2","E":402.75,"v":120},{"c":"comp2","E":402.5,"v":103},{"c":"comp2","E":402.25,"v":82},{"c":"comp2","E":402,"v":62},{"c":"comp2","E":401.75,"v":47},{"c":"comp2","E":401.5,"v":36},{"c":"comp2","E":401.25,"v":29},{"c":"comp2","E":401,"v":25.5},{"c":"comp2","E":400.5,"v":22},{"c":"comp2","E":400,"v":21},{"c":"comp2","E":399,"v":20.6},{"c":"comp2","E":398,"v":20.3},{"c":"comp2","E":396,"v":20},{"c":"comp2","E":395.3,"v":20}
],
"p2pB": [
{"c":"raw","E":137.9,"v":18.5},{"c":"raw","E":137.7,"v":16.5},{"c":"raw","E":137.5,"v":19.5},{"c":"raw","E":137.3,"v":17.0},{"c":"raw","E":137.1,"v":18.8},{"c":"raw","E":136.9,"v":17.2},{"c":"raw","E":136.7,"v":18.0},{"c":"raw","E":136.5,"v":16.8},{"c":"raw","E":136.3,"v":17.6},{"c":"raw","E":136.1,"v":18.2},{"c":"raw","E":135.9,"v":17.0},{"c":"raw","E":135.7,"v":19.5},{"c":"raw","E":135.5,"v":18.2},{"c":"raw","E":135.3,"v":22.5},{"c":"raw","E":135.1,"v":27},{"c":"raw","E":134.9,"v":33},{"c":"raw","E":134.7,"v":39},{"c":"raw","E":134.5,"v":49.5},{"c":"raw","E":134.3,"v":57},{"c":"raw","E":134.1,"v":74},{"c":"raw","E":133.9,"v":88},{"c":"raw","E":133.7,"v":97},{"c":"raw","E":133.5,"v":106},{"c":"raw","E":133.3,"v":108},{"c":"raw","E":133.1,"v":110},{"c":"raw","E":132.9,"v":116},{"c":"raw","E":132.7,"v":108},{"c":"raw","E":132.5,"v":96},{"c":"raw","E":132.3,"v":78},{"c":"raw","E":132.1,"v":60},{"c":"raw","E":131.9,"v":44},{"c":"raw","E":131.7,"v":33},{"c":"raw","E":131.5,"v":30},{"c":"raw","E":131.3,"v":26},{"c":"raw","E":131.1,"v":22},{"c":"raw","E":130.9,"v":23.5},{"c":"raw","E":130.7,"v":20.5},{"c":"raw","E":130.5,"v":21.8},{"c":"raw","E":130.3,"v":19.5},{"c":"raw","E":130.1,"v":20.8},{"c":"raw","E":129.9,"v":18.6},{"c":"raw","E":129.7,"v":17.5},{"c":"raw","E":129.5,"v":18.2},{"c":"raw","E":129.3,"v":20.5},{"c":"raw","E":129.1,"v":17.0},{"c":"raw","E":128.9,"v":18.0},{"c":"raw","E":128.7,"v":17.0},{"c":"raw","E":128.5,"v":18.5},{"c":"raw","E":128.3,"v":16.8},{"c":"raw","E":128.1,"v":19.5},
{"c":"base","E":138,"v":17},{"c":"base","E":128,"v":20.3},
{"c":"comp1","E":138,"v":17.4},{"c":"comp1","E":137,"v":17.9},{"c":"comp1","E":136,"v":19.2},{"c":"comp1","E":135.5,"v":21.3},{"c":"comp1","E":135,"v":28.9},{"c":"comp1","E":134.75,"v":36.5},{"c":"comp1","E":134.5,"v":47.5},{"c":"comp1","E":134.25,"v":62},{"c":"comp1","E":134,"v":78.7},{"c":"comp1","E":133.75,"v":95.6},{"c":"comp1","E":133.5,"v":109},{"c":"comp1","E":133.17,"v":116.3},{"c":"comp1","E":133,"v":114.3},{"c":"comp1","E":132.75,"v":104.9},{"c":"comp1","E":132.5,"v":90.1},{"c":"comp1","E":132.25,"v":73.1},{"c":"comp1","E":132,"v":57.1},{"c":"comp1","E":131.75,"v":44},{"c":"comp1","E":131.5,"v":34.5},{"c":"comp1","E":131.25,"v":28.1},{"c":"comp1","E":131,"v":24.4},{"c":"comp1","E":130.5,"v":21.4},{"c":"comp1","E":130,"v":20.5},{"c":"comp1","E":129,"v":20.4},{"c":"comp1","E":128,"v":20.7}
]
},
"layer": [
{
 "encoding": {
  "x": {"field": "w", "type": "quantitative", "scale": {"domain": [500, 4000], "range": [623, 92], "nice": false, "zero": false},
   "axis": {"orient": "bottom", "offset": -518.7, "values": [500,750,1000,1250,1500,1750,2000,2250,2500,2750,3000,3250,3500,3750,4000], "tickCount": 100, "format": "d", "labelExpr": "datum.value % 500 === 0 ? datum.label : ''", "tickSize": {"condition": {"test": "datum.value % 500 === 0", "value": 7}, "value": 4}, "tickWidth": 2, "domainWidth": 2, "labelFontSize": 19, "labelPadding": 4, "title": "Wavenumber (cm⁻¹)", "titleFontSize": 26, "titleY": 58, "titleBaseline": "alphabetic"}},
  "y": {"field": "T", "type": "quantitative", "scale": {"domain": [30, 105], "range": [412.3, 16], "nice": false, "zero": false},
   "axis": {"orient": "left", "offset": -92, "values": [30,35,40,45,50,55,60,65,70,75,80,85,90,95,100], "tickCount": 100, "format": "d", "labelExpr": "datum.value % 10 === 0 ? datum.label : ''", "tickSize": {"condition": {"test": "datum.value % 10 === 0", "value": 6}, "value": 3}, "tickWidth": 2, "domainWidth": 2, "labelFontSize": 19, "labelPadding": 4, "title": "Transmittance (%)", "titleFontSize": 25, "titleX": -48.5, "titleY": 222.5, "titleAngle": -90, "titleAlign": "center", "titleBaseline": "alphabetic"}}
 },
 "layer": [
  {"data": {"name": "ftir"}, "mark": {"type": "line", "strokeWidth": 2.5, "strokeJoin": "round"},
   "encoding": {"color": {"field": "s", "type": "nominal", "scale": {"domain": ["Bare polypropylene", "PDA coating", "PDA/PMEN coating"], "range": ["#000000", "#ff0000", "#0000ff"]},
    "legend": {"orient": "none", "legendX": 404, "legendY": 337, "title": null, "symbolType": "M-3.5,0H3.5", "symbolSize": 121, "symbolStrokeWidth": 3, "labelFont": "Liberation Serif", "labelFontWeight": "bold", "labelFontSize": 19, "labelColor": "#000", "labelOffset": 16, "labelLimit": 400, "rowPadding": 3, "padding": 0}}}},
  {"data": {"name": "arrows"}, "mark": {"type": "rule", "color": "black", "strokeWidth": 1.5}, "encoding": {"x2": {"field": "w2"}, "y2": {"field": "T2"}}},
  {"data": {"name": "arrows"}, "transform": [{"filter": "datum.k === 'CO'"}], "mark": {"type": "point", "shape": "triangle-up", "angle": 224, "filled": true, "size": 45, "color": "black", "opacity": 1}},
  {"data": {"name": "arrows"}, "transform": [{"filter": "datum.k === 'OPO1'"}], "mark": {"type": "point", "shape": "triangle-up", "angle": 180, "filled": true, "size": 45, "color": "black", "opacity": 1}},
  {"data": {"name": "arrows"}, "transform": [{"filter": "datum.k === 'OPO2'"}], "mark": {"type": "point", "shape": "triangle-up", "angle": 331, "filled": true, "size": 45, "color": "black", "opacity": 1}},
  {"data": {"name": "arrows"}, "transform": [{"filter": "datum.k === 'POC'"}], "mark": {"type": "point", "shape": "triangle-up", "angle": 143, "filled": true, "size": 45, "color": "black", "opacity": 1}},
  {"data": {"name": "ftirlabels"}, "mark": {"type": "text", "font": "Liberation Serif", "fontWeight": "bold", "fontSize": 24, "align": "center", "baseline": "alphabetic", "color": "black"}, "encoding": {"text": {"field": "label"}}},
  {"data": {"values": [{"w": 4518.7, "T": 100.72, "label": "(a)"}]}, "mark": {"type": "text", "font": "Liberation Serif", "fontWeight": "bold", "fontSize": 30, "align": "left", "baseline": "alphabetic", "color": "black"}, "encoding": {"text": {"field": "label"}}}
 ]
},
{
 "data": {"name": "n1sA"},
 "encoding": {
  "x": {"field": "E", "type": "quantitative", "scale": {"domain": [395.3, 410], "range": [358, 105.7], "nice": false, "zero": false},
   "axis": {"orient": "bottom", "offset": -242.7, "values": [396,397,398,399,400,401,402,403,404,405,406,407,408,409,410], "tickCount": 100, "format": "d", "labelExpr": "datum.value % 2 === 0 ? datum.label : ''", "tickSize": {"condition": {"test": "datum.value % 2 === 0", "value": 5}, "value": 3}, "tickWidth": 1.5, "domainWidth": 1.5, "labelFontSize": 17.5, "labelPadding": -2, "title": "Binding energy (eV)", "titleFontSize": 18, "titleY": 37, "titleBaseline": "alphabetic"}},
  "y": {"field": "v", "type": "quantitative", "scale": {"domain": [0, 150], "range": [688.3, 538.3], "nice": false, "zero": false}, "axis": null}
 },
 "layer": [
  {"mark": {"type": "line", "strokeWidth": 1.8, "strokeJoin": "round"}, "encoding": {"color": {"field": "c", "type": "nominal", "scale": {"domain": ["raw", "base", "fit", "comp1", "comp2"], "range": ["#000000", "#0000ff", "#ff0000", "#008080", "#ff00ff"]}, "legend": null}}},
  {"data": {"values": [{"E": 402.64, "v": 153.3, "label": "N1s"}]}, "mark": {"type": "text", "font": "Liberation Serif", "fontWeight": "bold", "fontSize": 24, "align": "center", "baseline": "alphabetic", "color": "black"}, "encoding": {"text": {"field": "label"}}},
  {"data": {"values": [{"E": 415.4, "v": 153.3, "label": "(b)"}]}, "mark": {"type": "text", "font": "Liberation Serif", "fontWeight": "bold", "fontSize": 30, "align": "left", "baseline": "alphabetic", "color": "black"}, "encoding": {"text": {"field": "label"}}},
  {"data": {"values": [{"E": 414.53, "v": 84.8, "label": "PDA coating"}]}, "mark": {"type": "text", "font": "Liberation Serif", "fontWeight": "bold", "fontSize": 19, "align": "left", "baseline": "alphabetic", "color": "black"}, "encoding": {"text": {"field": "label"}}},
  {"data": {"values": [{"E": 403.43, "v": 108.3, "label": "-N⁺(CH₃)₃"}]}, "mark": {"type": "text", "font": "Liberation Serif", "fontWeight": "bold", "fontSize": 18, "align": "center", "baseline": "alphabetic", "color": "black"}, "encoding": {"text": {"field": "label"}}}
 ]
},
{
 "data": {"name": "p2pA"},
 "encoding": {
  "x": {"field": "E", "type": "quantitative", "scale": {"domain": [128, 138], "range": [636, 382.7], "nice": false, "zero": false},
   "axis": {"orient": "bottom", "offset": -242.7, "values": [128,129,130,131,132,133,134,135,136,137,138], "tickCount": 100, "format": "d", "labelExpr": "datum.value % 2 === 0 ? datum.label : ''", "tickSize": {"condition": {"test": "datum.value % 2 === 0", "value": 5}, "value": 3}, "tickWidth": 1.5, "domainWidth": 1.5, "labelFontSize": 17.5, "labelPadding": -2, "title": "Binding energy (eV)", "titleFontSize": 18, "titleY": 37, "titleBaseline": "alphabetic"}},
  "y": {"field": "v", "type": "quantitative", "scale": {"domain": [0, 150], "range": [688.3, 538.3], "nice": false, "zero": false}, "axis": null}
 },
 "layer": [
  {"mark": {"type": "line", "strokeWidth": 1.6, "color": "black", "strokeJoin": "round"}},
  {"data": {"values": [{"E": 133.01, "v": 153.3, "label": "P2p"}]}, "mark": {"type": "text", "font": "Liberation Serif", "fontWeight": "bold", "fontSize": 24, "align": "center", "baseline": "alphabetic", "color": "black"}, "encoding": {"text": {"field": "label"}}}
 ]
},
{
 "data": {"name": "n1sB"},
 "encoding": {
  "x": {"field": "E", "type": "quantitative", "scale": {"domain": [395.3, 410], "range": [358, 105.7], "nice": false, "zero": false},
   "axis": {"orient": "bottom", "offset": -44.3, "values": [396,397,398,399,400,401,402,403,404,405,406,407,408,409,410], "tickCount": 100, "format": "d", "labelExpr": "datum.value % 2 === 0 ? datum.label : ''", "tickSize": {"condition": {"test": "datum.value % 2 === 0", "value": 5}, "value": 3}, "tickWidth": 1.5, "domainWidth": 1.5, "labelFontSize": 17.5, "labelPadding": -2, "title": "Binding energy (eV)", "titleFontSize": 18, "titleY": 37, "titleBaseline": "alphabetic"}},
  "y": {"field": "v", "type": "quantitative", "scale": {"domain": [0, 150], "range": [886.7, 736.7], "nice": false, "zero": false}, "axis": null}
 },
 "layer": [
  {"mark": {"type": "line", "strokeWidth": 1.8, "strokeJoin": "round"}, "encoding": {"color": {"field": "c", "type": "nominal", "scale": {"domain": ["raw", "base", "fit", "comp1", "comp2"], "range": ["#000000", "#0000ff", "#ff0000", "#008080", "#ff00ff"]}, "legend": null}}},
  {"data": {"values": [{"E": 411.79, "v": 88.4, "label": "PDA/PMEN\ncoating"}]}, "mark": {"type": "text", "font": "Liberation Serif", "fontWeight": "bold", "fontSize": 19, "align": "center", "baseline": "alphabetic", "lineBreak": "\n", "lineHeight": 19, "color": "black"}, "encoding": {"text": {"field": "label"}}},
  {"data": {"values": [{"E": 403.05, "v": 0, "v2": 305}]}, "mark": {"type": "rule", "color": "#4472C4", "strokeWidth": 2, "strokeDash": [2, 2]}, "encoding": {"y2": {"field": "v2"}}}
 ]
},
{
 "data": {"name": "p2pB"},
 "encoding": {
  "x": {"field": "E", "type": "quantitative", "scale": {"domain": [128, 138], "range": [636, 382.7], "nice": false, "zero": false},
   "axis": {"orient": "bottom", "offset": -44.3, "values": [128,129,130,131,132,133,134,135,136,137,138], "tickCount": 100, "format": "d", "labelExpr": "datum.value % 2 === 0 ? datum.label : ''", "tickSize": {"condition": {"test": "datum.value % 2 === 0", "value": 5}, "value": 3}, "tickWidth": 1.5, "domainWidth": 1.5, "labelFontSize": 17.5, "labelPadding": -2, "title": "Binding energy (eV)", "titleFontSize": 18, "titleY": 37, "titleBaseline": "alphabetic"}},
  "y": {"field": "v", "type": "quantitative", "scale": {"domain": [0, 150], "range": [886.7, 736.7], "nice": false, "zero": false}, "axis": null}
 },
 "layer": [
  {"mark": {"type": "line", "strokeWidth": 1.8, "strokeJoin": "round"}, "encoding": {"color": {"field": "c", "type": "nominal", "scale": {"domain": ["raw", "base", "comp1"], "range": ["#000000", "#0000ff", "#008080"]}, "legend": null}}}
 ]
}
],
"resolve": {"scale": {"x": "independent", "y": "independent", "color": "independent"}, "axis": {"x": "independent", "y": "independent"}}
}
